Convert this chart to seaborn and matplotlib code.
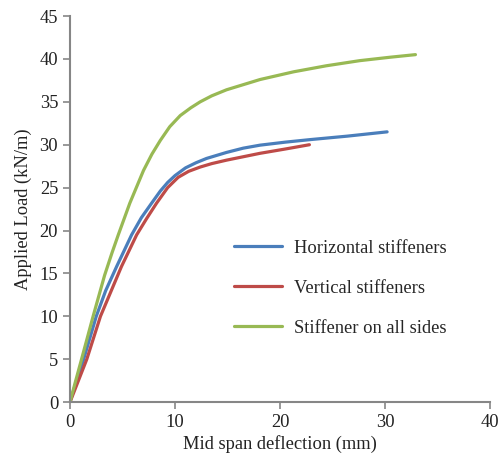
import numpy as np
import pandas as pd
import seaborn as sns
import matplotlib.pyplot as plt

# Valores (deflexão em mm, carga em kN/m)
horiz_x = [0, 0.6, 1.3, 2.5, 3.4, 4.44, 5.87, 6.8, 7.78, 8.6, 9.3, 10.0, 11.0, 12.0, 13.0, 14.9, 16.5, 18.1, 20.5, 22.9, 26.4, 30.2]
horiz_y = [0, 2.4, 5.0, 10.0, 13.0, 15.8, 19.5, 21.5, 23.2, 24.6, 25.6, 26.4, 27.3, 27.9, 28.4, 29.1, 29.6, 29.95, 30.3, 30.6, 31.0, 31.5]

vert_x = [0, 0.8, 1.6, 2.9, 4.9, 6.35, 7.3, 8.25, 9.3, 10.3, 11.3, 12.4, 13.5, 14.9, 16.5, 18.1, 20.5, 22.8]
vert_y = [0, 2.5, 5.0, 10.0, 15.8, 19.5, 21.4, 23.2, 25.0, 26.2, 26.9, 27.4, 27.8, 28.2, 28.6, 29.0, 29.5, 30.0]

all_x = [0, 0.5, 1.1, 2.2, 3.3, 4.0, 4.6, 5.7, 7.0, 7.8, 8.6, 9.5, 10.5, 11.5, 12.4, 13.5, 14.9, 16.5, 18.1, 21.3, 24.4, 27.6, 30.5, 32.9]
all_y = [0, 2.3, 5.0, 10.0, 14.8, 17.4, 19.5, 23.2, 27.0, 28.9, 30.5, 32.1, 33.4, 34.3, 35.0, 35.7, 36.4, 37.0, 37.6, 38.5, 39.2, 39.8, 40.2, 40.5]

series = ["Horizontal stiffeners", "Vertical stiffeners", "Stiffener on all sides"]
cores = ["#4a7ebb", "#be4b48", "#98b954"]

df = pd.concat([
    pd.DataFrame({"x": horiz_x, "y": horiz_y, "serie": series[0]}),
    pd.DataFrame({"x": vert_x, "y": vert_y, "serie": series[1]}),
    pd.DataFrame({"x": all_x, "y": all_y, "serie": series[2]}),
])

sns.set_style("ticks")
plt.rcParams["font.family"] = ["Liberation Serif", "DejaVu Serif"]

fig, ax = plt.subplots(figsize=(5, 4.58), dpi=100)
fig.subplots_adjust(left=0.14, right=0.98, bottom=0.122, top=0.965)

sns.lineplot(ax=ax, data=df, x="x", y="y", hue="serie", palette=cores,
             hue_order=series, sort=False, linewidth=2.3, solid_capstyle="round",
             solid_joinstyle="round")

ax.set_xlim(0, 40)
ax.set_ylim(0, 45)
ax.set_xticks(range(0, 41, 10))
ax.set_yticks(range(0, 46, 5))
ax.set_xlabel("Mid span deflection (mm)", fontsize=13.3, color="#222222", labelpad=3)
ax.set_ylabel("Applied Load (kN/m)", fontsize=13.3, color="#222222", labelpad=5)
ax.tick_params(labelsize=13.3, colors="#868686", labelcolor="#222222", length=5, width=1.2)
for s in ["top", "right"]:
    ax.spines[s].set_visible(False)
for s in ["left", "bottom"]:
    ax.spines[s].set_color("#868686")
    ax.spines[s].set_linewidth(1.5)

ax.legend(frameon=False, loc="upper left", bbox_to_anchor=(0.352, 0.464),
          fontsize=13.3, handlelength=2.6, labelspacing=1.25, handletextpad=0.65)

plt.savefig("out.png", dpi=100)
